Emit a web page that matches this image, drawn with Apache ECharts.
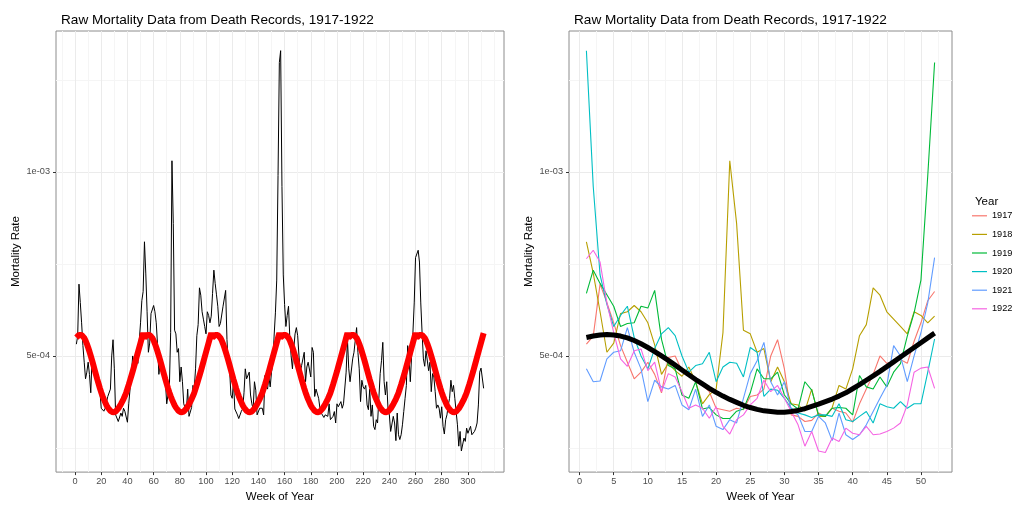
<!DOCTYPE html>
<html><head><meta charset="utf-8">
<script src="https://cdn.jsdelivr.net/npm/echarts@6/dist/echarts.min.js"></script>
<style>html,body{margin:0;padding:0;background:#fff}#c{width:1013px;height:508px}</style>
</head><body><div id="c"></div>
<script>
// values in units of 1e-4 (mortality rate)
const UNIT = 1e-4;
const years = ['1917', '1918', '1919', '1920', '1921', '1922'];
const weeks = [1,2,3,4,5,6,7,8,9,10,11,12,13,14,15,16,17,18,19,20,21,22,23,24,25,26,
  27,28,29,30,31,32,33,34,35,36,37,38,39,40,41,42,43,44,45,46,47,48,49,50,51,52];

const rate1917 = [5.32,5.54,6.95,6.45,5.9,5.28,4.83,4.38,4.56,4.83,4.5,4.0,4.96,5.0,4.6,4.5,4.3,4.2,4.03,3.58,
  3.54,3.5,3.58,3.54,3.9,3.94,4.1,5.0,5.44,4.65,3.4,3.36,3.22,3.25,3.45,3.36,3.58,3.5,3.45,3.2,
  3.7,4.1,4.5,5.0,4.8,4.85,4.9,4.8,5.4,5.9,6.5,6.75];
const rate1918 = [8.1,7.25,6.2,5.1,5.35,6.15,6.2,6.37,6.2,5.9,5.3,4.5,4.8,4.6,4.45,4.7,4.3,3.7,3.95,4.1,
  5.63,10.3,8.6,5.7,5.6,5.1,5.2,4.3,4.7,4.3,3.7,3.67,3.5,4.1,3.36,3.36,3.6,4.2,4.1,4.65,
  5.55,5.85,6.85,6.65,6.2,6.0,5.8,5.6,6.2,6.1,5.9,6.08];
const rate1919 = [6.7,7.33,6.97,6.66,6.35,5.8,5.88,5.9,6.35,6.3,6.78,5.45,4.74,4.65,3.94,3.85,4.3,3.56,3.6,3.4,
  3.3,3.3,3.5,3.56,4.0,4.65,4.38,4.38,4.56,3.94,3.7,3.56,4.3,4.07,3.4,3.36,3.58,3.6,3.58,3.4,
  4.47,4.16,4.1,4.43,4.16,4.56,4.79,5.54,6.17,7.06,9.9,12.97];
const rate1920 = [13.29,9.6,7.2,6.4,5.8,6.1,6.35,5.5,5.0,4.65,5.2,5.6,5.77,5.55,5.0,4.56,4.74,4.79,5.1,4.3,
  4.7,4.83,4.8,4.43,5.23,5.1,3.9,4.1,4.07,3.85,3.58,3.45,3.4,3.33,3.4,3.4,3.36,3.7,3.27,3.22,
  3.36,3.49,3.18,3.7,3.62,3.58,3.76,3.58,3.7,3.7,4.56,5.46];
const rate1921 = [4.65,4.3,4.32,4.92,5.1,5.14,5.77,5.1,4.65,3.76,4.34,4.16,4.1,4.2,3.67,3.54,4.1,3.36,3.67,3.09,
  3.0,3.27,3.18,3.85,4.52,4.87,5.37,4.3,3.94,4.3,3.54,3.4,2.95,2.95,3.36,3.18,2.7,3.45,2.86,2.73,
  2.86,3.13,3.49,3.85,4.2,5.28,5.0,4.3,5.0,5.63,6.44,7.67];
const rate1922 = [7.64,7.87,7.55,6.44,5.63,4.92,4.72,5.14,5.19,4.6,4.83,4.03,4.52,4.43,4.03,3.58,3.67,3.58,3.31,3.62,
  3.09,2.88,3.27,3.4,3.67,3.85,4.34,4.03,4.2,3.85,3.49,3.13,2.55,2.95,2.42,2.38,2.77,2.68,3.04,2.9,
  2.86,3.09,2.86,2.88,2.95,3.04,3.18,3.67,4.56,4.67,4.7,4.12];
const fitByWeek = [5.50,5.54,5.57,5.58,5.57,5.54,5.49,5.42,5.33,5.23,5.12,5.00,4.88,4.75,4.62,4.49,4.36,4.24,4.12,4.01,
  3.91,3.82,3.74,3.66,3.60,3.55,3.51,3.49,3.47,3.47,3.49,3.52,3.57,3.63,3.69,3.76,3.83,3.91,4.00,4.11,
  4.22,4.34,4.46,4.58,4.71,4.84,4.97,5.10,5.23,5.36,5.49,5.62];

const yearRates = [rate1917, rate1918, rate1919, rate1920, rate1921, rate1922];
const yearColors = ['#F8766D', '#B79F00', '#00BA38', '#00BFC4', '#619CFF', '#F564E3'];

const leftXTicks = [0,20,40,60,80,100,120,140,160,180,200,220,240,260,280,300];
const leftXMinor = [-10,10,30,50,70,90,110,130,150,170,190,210,230,250,270,290,310,320];
const rightXTicks = [0,5,10,15,20,25,30,35,40,45,50];
const rightXMinor = [2.5,7.5,12.5,17.5,22.5,27.5,32.5,37.5,42.5,47.5,52.5];
const yTicks = [0.0005, 0.001];
const yTickLabels = ['5e-04', '1e-03'];
const yMinor = [0.00025, 0.00075, 0.00125];

const titleText = 'Raw Mortality Data from Death Records, 1917-1922';
const FONT = 'Liberation Sans, Arial, Helvetica, sans-serif';

// build series data
const leftRaw = [], leftFit = [];
yearRates.forEach((arr, k) => {
  arr.forEach((v, i) => {
    leftRaw.push([52 * k + weeks[i], v * UNIT]);
    leftFit.push([52 * k + weeks[i], fitByWeek[i] * UNIT]);
  });
});
const rightFit = weeks.map((w, i) => [w, fitByWeek[i] * UNIT]);

function majorX(grid, min, max, ticks, name) {
  return {
    type: 'value', gridIndex: grid, min: min, max: max, position: 'bottom',
    axisLine: {show: false, onZero: false},
    axisTick: {show: true, customValues: ticks, length: 3, lineStyle: {color: '#333', width: 1}},
    axisLabel: {show: true, customValues: ticks, color: '#4d4d4d', fontSize: 9.2, fontFamily: FONT, margin: 5},
    splitLine: {show: true, lineStyle: {color: '#ebebeb', width: 1}},
    name: name, nameLocation: 'middle', nameGap: 16,
    nameTextStyle: {color: '#000', fontSize: 11.5, fontFamily: FONT}
  };
}
function minorX(grid, min, max, ticks) {
  return {
    type: 'value', gridIndex: grid, min: min, max: max, position: 'top',
    axisLine: {show: false, onZero: false},
    axisTick: {show: false, customValues: ticks},
    axisLabel: {show: false, customValues: ticks},
    splitLine: {show: true, lineStyle: {color: '#f5f5f5', width: 1}}
  };
}
const YMIN = 0.0001846, YMAX = 0.0013824;
function majorY(grid) {
  return {
    type: 'value', gridIndex: grid, min: YMIN, max: YMAX, position: 'left',
    axisLine: {show: false, onZero: false},
    axisTick: {show: true, customValues: yTicks, length: 3, lineStyle: {color: '#333', width: 1}},
    axisLabel: {show: true, customValues: yTicks, color: '#4d4d4d', fontSize: 9.2, fontFamily: FONT, margin: 6,
      formatter: v => { const i = yTicks.findIndex(t => Math.abs(t - v) < 1e-9); return i >= 0 ? yTickLabels[i] : ''; }},
    splitLine: {show: true, lineStyle: {color: '#ebebeb', width: 1}},
    name: 'Mortality Rate', nameLocation: 'middle', nameGap: 34,
    nameTextStyle: {color: '#000', fontSize: 11.5, fontFamily: FONT}
  };
}
function minorY(grid) {
  return {
    type: 'value', gridIndex: grid, min: YMIN, max: YMAX, position: 'right',
    axisLine: {show: false, onZero: false},
    axisTick: {show: false, customValues: yMinor},
    axisLabel: {show: false, customValues: yMinor},
    splitLine: {show: true, lineStyle: {color: '#f5f5f5', width: 1}}
  };
}

const chart = echarts.init(document.getElementById('c'), null, {renderer: 'canvas'});
const series = [
  {type: 'line', name: 'raw', xAxisIndex: 0, yAxisIndex: 0, data: leftRaw, showSymbol: false,
   lineStyle: {color: '#000', width: 1}, itemStyle: {color: '#000'}, z: 3},
  {type: 'line', name: 'fit', xAxisIndex: 0, yAxisIndex: 0, data: leftFit, showSymbol: false,
   lineStyle: {color: '#FF0000', width: 6}, itemStyle: {color: '#FF0000'}, z: 4}
];
years.forEach((y, k) => {
  series.push({type: 'line', name: y, xAxisIndex: 2, yAxisIndex: 2,
    data: weeks.map((w, i) => [w, yearRates[k][i] * UNIT]), showSymbol: false,
    lineStyle: {color: yearColors[k], width: 1.1}, itemStyle: {color: yearColors[k]}, z: 3});
});
series.push({type: 'line', name: 'fit2', xAxisIndex: 2, yAxisIndex: 2, data: rightFit, showSymbol: false,
  lineStyle: {color: '#000', width: 5}, itemStyle: {color: '#000'}, z: 5});

chart.setOption({
  animation: false,
  backgroundColor: '#fff',
  textStyle: {fontFamily: FONT},
  title: [
    {text: titleText, left: 56, top: 8, textStyle: {fontSize: 13.6, fontWeight: 'normal', color: '#000', fontFamily: FONT}},
    {text: titleText, left: 569, top: 8, textStyle: {fontSize: 13.6, fontWeight: 'normal', color: '#000', fontFamily: FONT}},
    {text: 'Year', left: 970, top: 191, textStyle: {fontSize: 11.5, fontWeight: 'normal', color: '#000', fontFamily: FONT}}
  ],
  legend: {
    data: years, orient: 'vertical', left: 972, top: 206.5, padding: 0, itemGap: 0,
    itemWidth: 15, itemHeight: 1.2, icon: 'rect',
    textStyle: {fontSize: 9.2, color: '#000', fontFamily: FONT, lineHeight: 18.6}
  },
  grid: [
    {left: 56, top: 31, width: 448, height: 447, show: true, borderColor: '#8c8c8c', borderWidth: 1, backgroundColor: 'transparent'},
    {left: 569, top: 31, width: 383, height: 447, show: true, borderColor: '#8c8c8c', borderWidth: 1, backgroundColor: 'transparent'}
  ],
  xAxis: [
    majorX(0, -14.55, 327.55, leftXTicks, 'Week of Year'),
    minorX(0, -14.55, 327.55, leftXMinor),
    majorX(1, -1.55, 54.55, rightXTicks, 'Week of Year'),
    minorX(1, -1.55, 54.55, rightXMinor)
  ],
  yAxis: [majorY(0), minorY(0), majorY(1), minorY(1)],
  series: series
});
</script></body></html>
